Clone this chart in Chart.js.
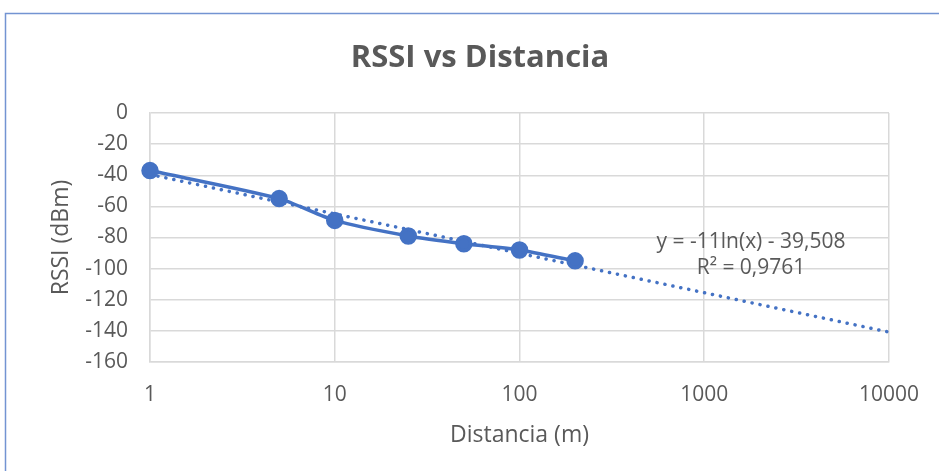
<!DOCTYPE html>
<html>
<head>
<meta charset="utf-8">
<script src="https://cdn.jsdelivr.net/npm/chart.js@4/dist/chart.umd.min.js"></script>
<style>
  html, body { margin: 0; padding: 0; background: #fff; }
  #wrap { width: 939px; height: 471px; }
</style>
</head>
<body>
<div id="wrap"><canvas id="myChart" width="939" height="471"></canvas></div>
<script>
// measured values
const distances = [1, 5, 10, 25, 50, 100, 200];
const rssi = [-37, -55, -69, -79, -84, -88, -95];

// trend line ends (log fit, straight on a log axis)
const trendX = [1, 10000];
const trendY = [-39.5, -140.8];

const xTicks = [1, 10, 100, 1000, 10000];
const chartTitle = "RSSI vs Distancia";
const trendLabel = ["y = -11ln(x) - 39,508", "R² = 0,9761"];

const blue = "#4472C4";
const textGrey = "#595959";
const gridGrey = "#d9d9d9";
const fontName = "'Open Sans', sans-serif";

// white background, frame lines, title and trend equation text
const extras = {
    id: "extras",
    beforeDraw(chart) {
        const ctx = chart.ctx;
        ctx.save();
        ctx.fillStyle = "#fff";
        ctx.fillRect(0, 0, chart.width, chart.height);
        ctx.strokeStyle = "#7394d2";
        ctx.lineWidth = 1.5;
        ctx.beginPath();
        ctx.moveTo(5.5, chart.height);
        ctx.lineTo(5.5, 13.5);
        ctx.lineTo(chart.width, 13.5);
        ctx.stroke();
        ctx.restore();
    },
    afterDraw(chart) {
        const ctx = chart.ctx;
        ctx.save();
        ctx.fillStyle = textGrey;
        ctx.textAlign = "center";
        ctx.textBaseline = "middle";
        ctx.font = "bold 31px " + fontName;
        ctx.fillText(chartTitle, 480, 58);
        ctx.font = "21px " + fontName;
        ctx.fillText(trendLabel[0], 751, 242);
        ctx.fillText(trendLabel[1], 751, 268);
        ctx.restore();
    },
};

const config = {
    type: "scatter",
    data: {
        datasets: [
            {
                label: "RSSI",
                data: distances.map((d, i) => ({ x: d, y: rssi[i] })),
                showLine: true,
                clip: false,
                borderColor: blue,
                backgroundColor: blue,
                borderWidth: 3.5,
                pointRadius: 7,
                pointHoverRadius: 7,
                tension: 0.25,
                order: 1,
            },
            {
                label: "Tendencia",
                data: trendX.map((d, i) => ({ x: d, y: trendY[i] })),
                showLine: true,
                borderColor: blue,
                borderWidth: 3.5,
                borderDash: [0.1, 8],
                borderCapStyle: "round",
                pointRadius: 0,
                order: 2,
            },
        ],
    },
    options: {
        responsive: false,
        animation: false,
        layout: { padding: { left: 0, right: 49, top: 113, bottom: 0 } },
        plugins: {
            legend: { display: false },
            tooltip: { enabled: false },
            title: { display: false },
        },
        scales: {
            x: {
                type: "logarithmic",
                min: 1,
                max: 10000,
                afterBuildTicks: (scale) => {
                    scale.ticks = xTicks.map((v) => ({ value: v }));
                },
                afterFit: (scale) => {
                    scale.height = 109;
                },
                ticks: {
                    color: textGrey,
                    font: { family: fontName, size: 21 },
                    padding: 20,
                    maxRotation: 0,
                    autoSkip: false,
                    callback: (v) => String(v),
                },
                grid: { color: gridGrey, lineWidth: 1.5, drawTicks: false },
                border: { color: gridGrey, width: 1.5 },
                title: {
                    display: true,
                    text: "Distancia (m)",
                    color: textGrey,
                    font: { family: fontName, size: 23 },
                    padding: { top: 0, bottom: 22 },
                },
            },
            y: {
                min: -160,
                max: 0,
                afterFit: (scale) => {
                    scale.width = 150;
                },
                ticks: {
                    stepSize: 20,
                    color: textGrey,
                    font: { family: fontName, size: 21 },
                    padding: 22,
                },
                grid: { color: gridGrey, lineWidth: 1.5, drawTicks: false },
                border: { color: gridGrey, width: 1.5 },
                title: {
                    display: true,
                    text: "RSSI (dBm)",
                    color: textGrey,
                    font: { family: fontName, size: 23 },
                    padding: { top: 48, bottom: 0 },
                },
            },
        },
    },
    plugins: [extras],
};

const myChart = new Chart(document.querySelector("#myChart"), config);
</script>
</body>
</html>
